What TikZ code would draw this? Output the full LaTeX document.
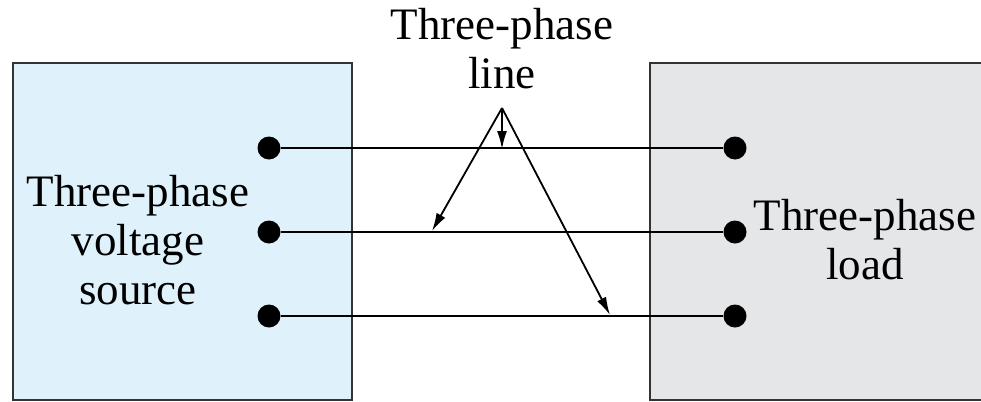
\documentclass[tikz,border=0pt]{standalone}
\usepackage{fontspec}
\setmainfont{Liberation Serif}
\usetikzlibrary{arrows.meta}
\definecolor{srcblue}{RGB}{223,241,250}
\definecolor{loadgray}{RGB}{229,230,232}
\tikzset{
    block/.style={draw=black!80,line width=1pt},
    terminal/.style={circle,fill=black,inner sep=0pt,minimum size=11.5pt},
    wire/.style={line width=0.9pt},
    pointer/.style={line width=0.9pt,-{Latex[length=9pt,width=5pt]}},
    label/.style={align=center,font=\fontsize{22.5}{24.5}\selectfont,inner sep=0pt}
}
\begin{document}
\begin{tikzpicture}[x=0.5pt,y=-0.5pt]
        \useasboundingbox (0,0) rectangle (981,402);
        \clip (0,0) rectangle (981,402);
        %% source and load blocks
        \draw[block,fill=srcblue] (13,63) rectangle (352,400);
        \draw[block,fill=loadgray] (650,63) rectangle (1010,400);
        \node[label] (src) at (138,240) {Three-phase\\voltage\\source};
        \node[label] (load) at (865,240) {Three-phase\\load};
        %% terminals and wires
        \foreach \i/\y in {1/148,2/232,3/316} {
            \node[terminal] (s\i) at (269,\y) {};
            \node[terminal] (l\i) at (735,\y) {};
            \draw[wire] (s\i) -- (l\i);
        }
        %% line label
        \node[label] (line) at (502,49) {Three-phase\\line};
        \coordinate (tip) at (502,108);
        \coordinate (p1) at (502,149);
        \coordinate (p2) at (432,231);
        \coordinate (p3) at (610,315);
        \foreach \p in {p1,p2,p3}
            \draw[pointer] (tip) -- (\p);
    \end{tikzpicture}
\end{document}
